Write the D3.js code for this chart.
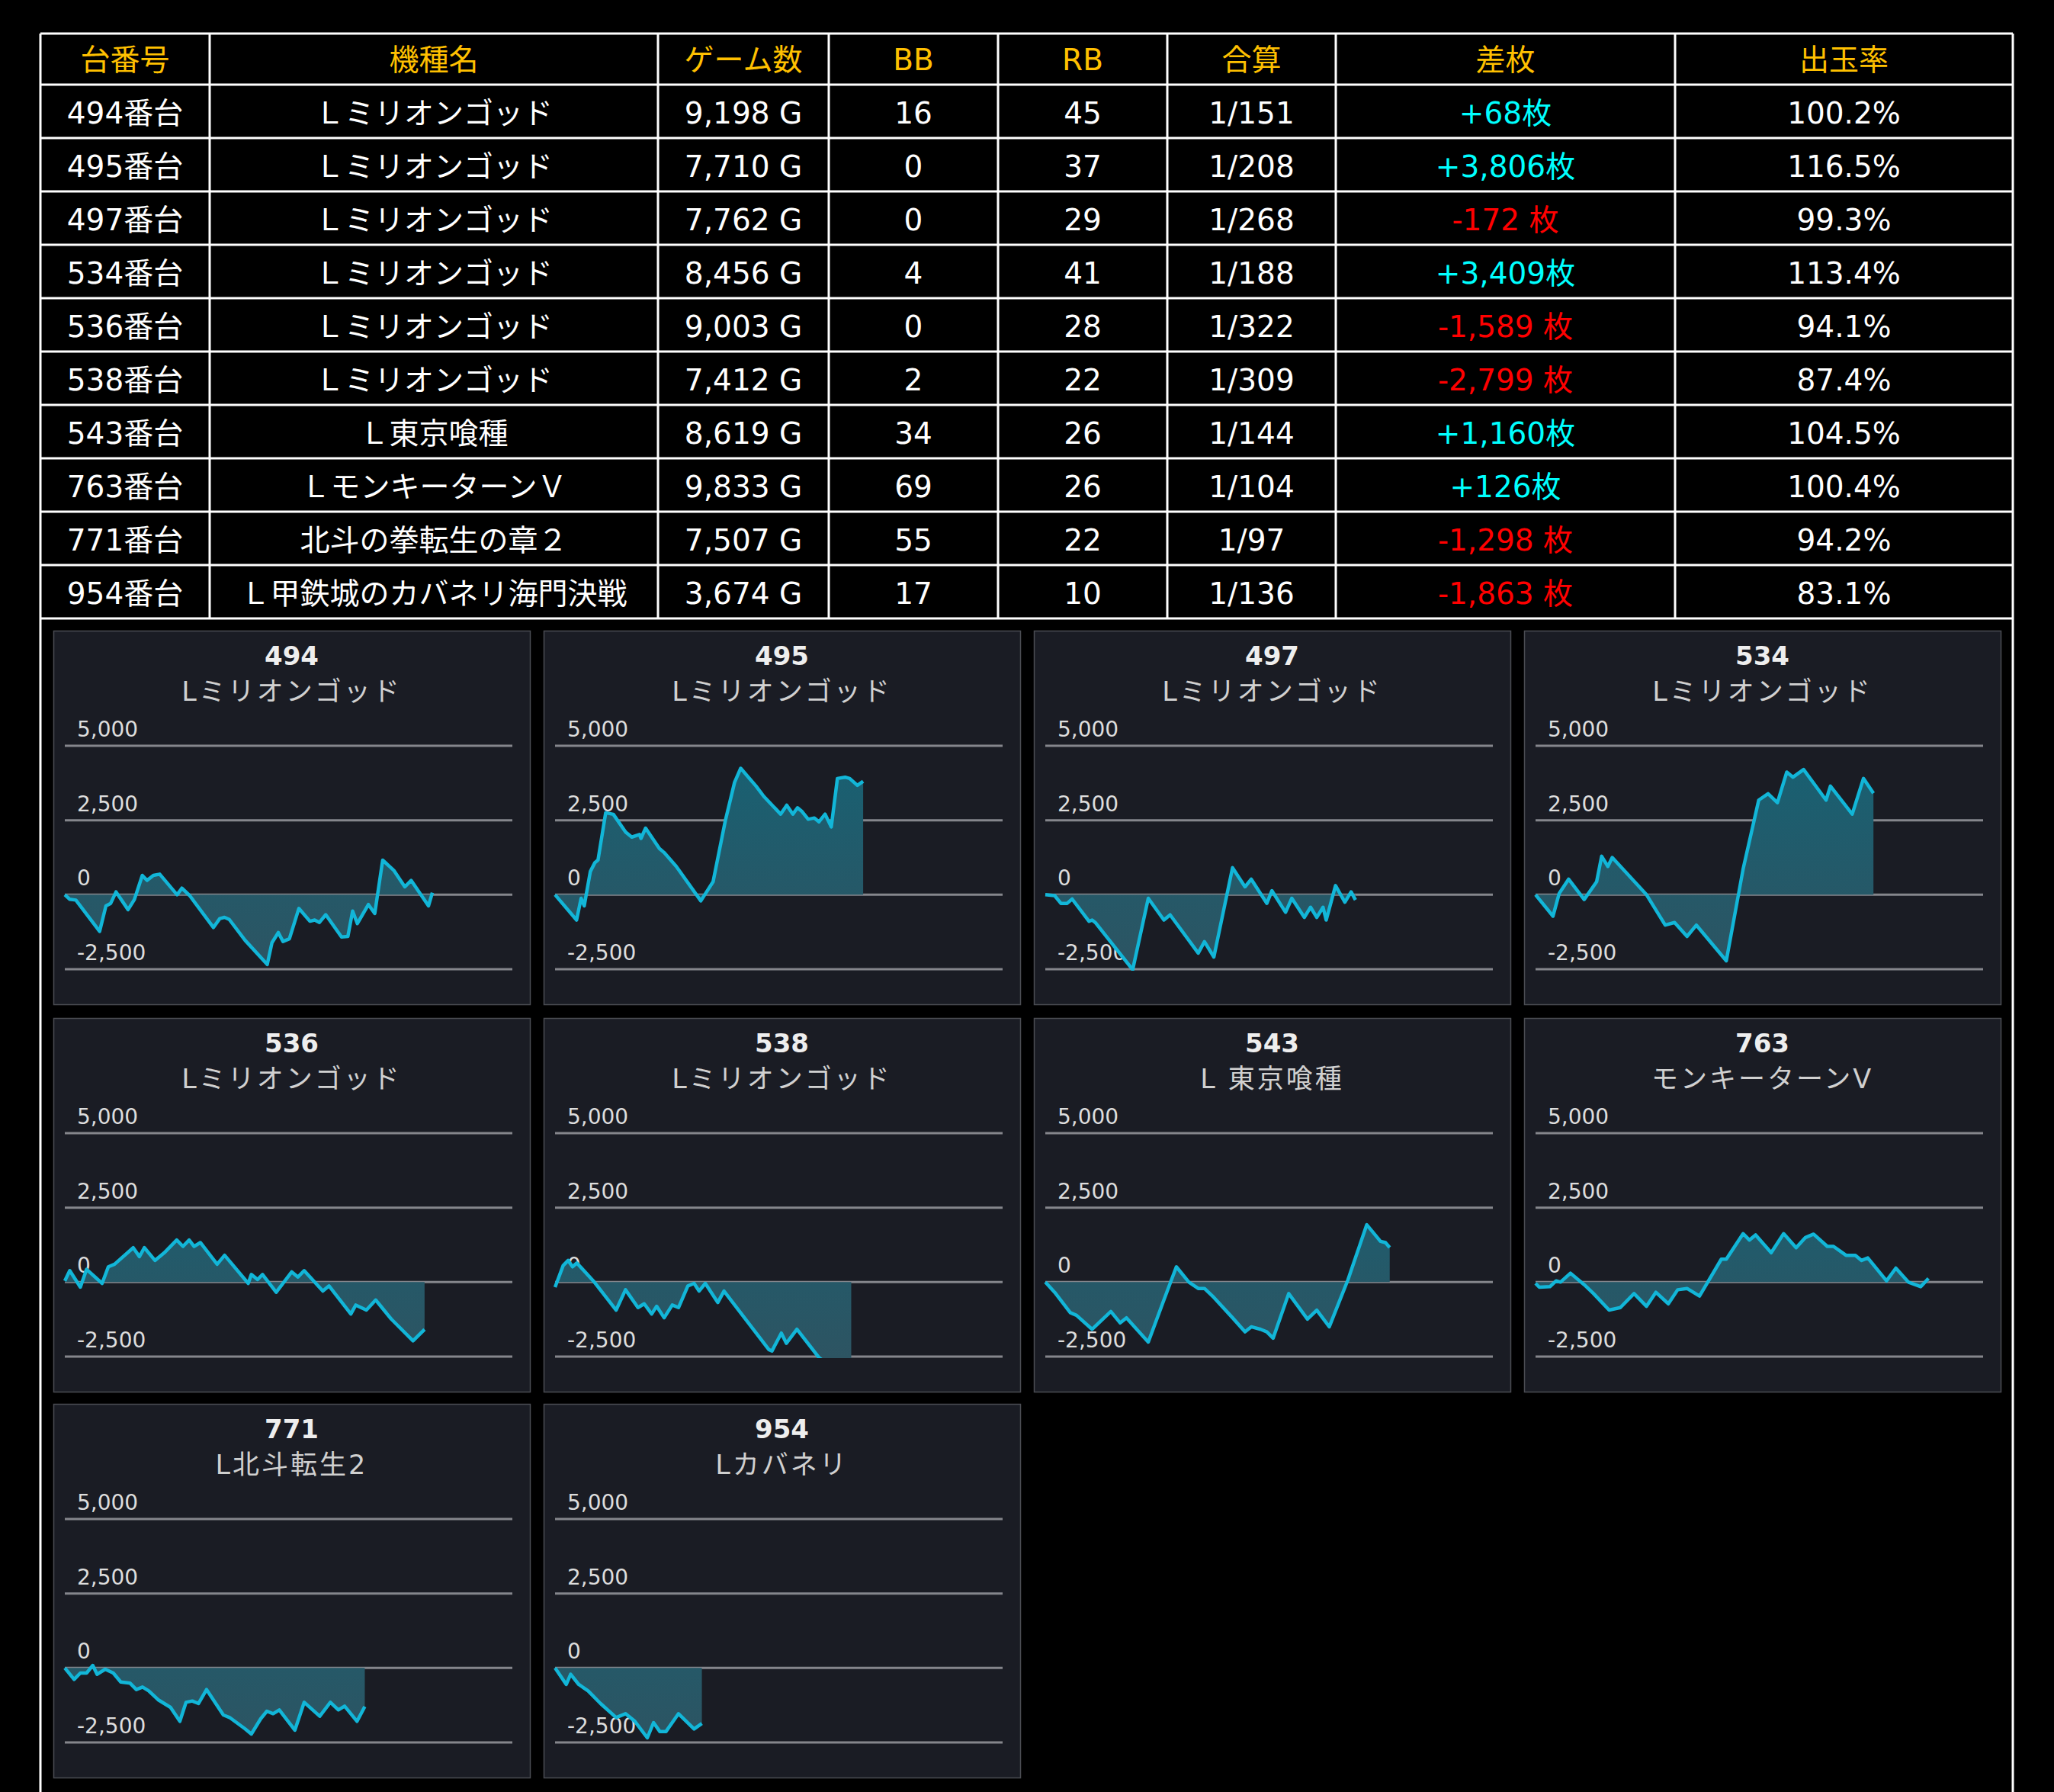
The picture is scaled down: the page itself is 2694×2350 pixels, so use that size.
<!DOCTYPE html>
<html>
<head>
<meta charset="utf-8">
<script src="https://cdn.jsdelivr.net/npm/d3@7"></script>
<style>
  body { margin: 0; background: #000; }
  svg { display: block; font-family: "DejaVu Sans", "Noto Sans CJK JP", sans-serif; }
</style>
</head>
<body>
<svg id="svg" width="2694" height="2350"></svg>
<script>
'use strict'

// table data
var headers = ['台番号', '機種名', 'ゲーム数', 'BB', 'RB', '合算', '差枚', '出玉率'];
var unitNos = [494, 495, 497, 534, 536, 538, 543, 763, 771, 954];
var modelNames = [
    'Ｌミリオンゴッド', 'Ｌミリオンゴッド', 'Ｌミリオンゴッド', 'Ｌミリオンゴッド',
    'Ｌミリオンゴッド', 'Ｌミリオンゴッド', 'Ｌ東京喰種', 'ＬモンキーターンＶ',
    '北斗の拳転生の章２', 'Ｌ甲鉄城のカバネリ海門決戦'
];
var gameCounts = [9198, 7710, 7762, 8456, 9003, 7412, 8619, 9833, 7507, 3674];
var bbCounts = [16, 0, 0, 4, 0, 2, 34, 69, 55, 17];
var rbCounts = [45, 37, 29, 41, 28, 22, 26, 26, 22, 10];
var combined = [151, 208, 268, 188, 322, 309, 144, 104, 97, 136];
var diffs = [68, 3806, -172, 3409, -1589, -2799, 1160, 126, -1298, -1863];
var payoutRates = [100.2, 116.5, 99.3, 113.4, 94.1, 87.4, 104.5, 100.4, 94.2, 83.1];

// chart data: [games, diff coins]
var chartNames = ['Lミリオンゴッド', 'Lミリオンゴッド', 'Lミリオンゴッド', 'Lミリオンゴッド',
    'Lミリオンゴッド', 'Lミリオンゴッド', 'L 東京喰種', 'モンキーターンV', 'L北斗転生2', 'Lカバネリ'];
var yTicks = [5000, 2500, 0, -2500];

var slump494 = [[0,0],[119,-150],[277,-180],[871,-1230],[1029,-375],[1148,-290],[1282,94],[1583,-500],
    [1741,-160],[1939,650],[2058,480],[2216,650],[2375,690],[2810,0],[2929,220],[3126,-30],[3720,-1100],
    [3878,-800],[3997,-760],[4116,-830],[4512,-1530],[5066,-2340],[5184,-1610],[5343,-1270],[5461,-1570],
    [5620,-1480],[5857,-460],[6134,-890],[6253,-850],[6372,-930],[6530,-670],[6925,-1420],[7084,-1400],
    [7203,-546],[7321,-970],[7598,-330],[7757,-630],[7955,1160],[8232,820],[8509,265],[8667,480],
    [9102,-375],[9198,68]];
var slump495 = [[0,0],[538,-850],[653,-120],[730,-375],[883,780],[998,1080],[1075,1165],[1267,2750],
    [1459,2700],[1767,2100],[1920,1935],[2112,2020],[2150,1890],[2266,2235],[2611,1550],[2726,1420],
    [3034,950],[3648,-205],[3955,437],[4262,2490],[4493,3775],[4646,4245],[4838,3946],[5030,3647],
    [5222,3304],[5645,2705],[5798,3005],[5952,2705],[6067,2919],[6182,2790],[6336,2534],[6490,2577],
    [6605,2448],[6758,2705],[6912,2277],[7066,3903],[7258,3946],[7373,3903],[7565,3672],[7710,3806]];
var slump497 = [[0,0],[234,-30],[390,-290],[546,-290],[672,-145],[1093,-890],[1172,-850],[1250,-930],
    [2187,-2517],[2577,-120],[2968,-850],[3124,-676],[3827,-1960],[3983,-1575],[4218,-2090],[4686,907],
    [4998,265],[5154,522],[5545,-290],[5670,137],[6013,-590],[6169,-120],[6482,-762],[6638,-420],
    [6794,-762],[6950,-420],[7029,-850],[7263,308],[7497,-250],[7653,94],[7762,-172]];
var slump534 = [[0,0],[437,-720],[593,50],[827,522],[1217,-160],[1529,437],[1654,1292],[1810,950],
    [1919,1250],[2777,0],[3245,-1020],[3479,-933],[3791,-1400],[4025,-1020],[4774,-2217],[5195,865],
    [5585,3176],[5819,3390],[6053,3090],[6287,4117],[6443,3946],[6708,4203],[7270,3176],[7379,3647],
    [7925,2705],[8206,3903],[8456,3409]];
var slump536 = [[0,40],[124,385],[389,-170],[545,428],[934,-43],[1089,514],[1245,600],[1712,1155],
    [1867,856],[1992,1155],[2256,728],[2490,985],[2801,1412],[2957,1198],[3112,1412],[3236,1198],
    [3392,1327],[3812,600],[3999,900],[4590,-43],[4668,257],[4824,86],[4948,257],[5290,-342],[5679,342],
    [5835,171],[5990,385],[6457,-300],[6613,-128],[7158,-1070],[7282,-770],[7547,-940],[7780,-600],
    [8169,-1240],[8714,-1970],[9003,-1589]];
var slump538 = [[0,-170],[203,556],[328,728],[437,514],[546,642],[983,0],[1529,-940],[1763,-257],
    [2075,-856],[2231,-728],[2418,-1070],[2543,-813],[2730,-1198],[2933,-770],[3089,-856],[3323,-128],
    [3479,-43],[3604,-300],[3760,-43],[4072,-685],[4228,-300],[5351,-2268],[5429,-2311],[5663,-1712],
    [5788,-2054],[6053,-1584],[6599,-2525],[6900,-2850],[7150,-3050],[7412,-2799]];
var slump543 = [[0,0],[234,-342],[625,-1027],[781,-1113],[1172,-1584],[1640,-985],[1874,-1370],
    [2031,-1198],[2577,-2012],[2968,-600],[3280,514],[3593,0],[3827,-214],[3983,-214],[4218,-514],
    [4686,-1198],[4998,-1670],[5154,-1500],[5389,-1584],[5545,-1670],[5701,-1883],[6091,-385],
    [6560,-1241],[6794,-942],[7107,-1500],[7576,86],[8045,1926],[8388,1370],[8513,1327],[8619,1160]];
var slump763 = [[0,-43],[94,-171],[359,-154],[515,43],[624,0],[874,300],[1217,-86],[1451,-385],
    [1841,-940],[2122,-856],[2465,-385],[2777,-813],[3011,-342],[3323,-728],[3557,-257],[3791,-214],
    [4103,-470],[4649,770],[4774,770],[5195,1626],[5351,1412],[5507,1584],[5897,985],[6209,1626],
    [6521,1155],[6755,1498],[6958,1610],[7301,1198],[7457,1198],[7769,900],[8003,900],[8159,728],
    [8315,813],[8783,43],[9017,470],[9329,0],[9641,-154],[9833,126]];
var slump771 = [[0,0],[233,-384],[389,-170],[545,-170],[700,85],[809,-213],[1011,-43],[1214,-170],
    [1400,-470],[1634,-512],[1790,-725],[1945,-640],[2100,-768],[2334,-1066],[2645,-1322],[2879,-1791],
    [3034,-1152],[3190,-1109],[3346,-1194],[3548,-725],[3968,-1578],[4124,-1663],[4513,-2047],
    [4668,-2218],[4902,-1706],[5057,-1450],[5213,-1535],[5368,-1407],[5757,-2090],[5991,-1152],
    [6380,-1621],[6645,-1152],[6847,-1407],[7002,-1280],[7313,-1791],[7507,-1298]];
var slump954 = [[0,0],[281,-554],[390,-213],[593,-554],[827,-768],[1139,-1194],[1529,-1663],
    [1763,-1535],[1997,-1791],[2309,-2346],[2465,-1834],[2621,-2133],[2777,-2133],[3089,-1535],
    [3479,-2047],[3674,-1863]];
var slumps = [slump494, slump495, slump497, slump534, slump536, slump538, slump543, slump763, slump771, slump954];

var svg = d3.select('#svg');
// plain hyphen for negatives, like the original page
var fmt = d3.formatLocale({decimal: '.', thousands: ',', grouping: [3], currency: ['', ''], minus: '-'}).format(',');

// ---- table ----
var colEdges = [53, 275, 863, 1087, 1309, 1531, 1752, 2197, 2640];
var tableTop = 44, headH = 67, rowH = 70;
var tableBottom = tableTop + headH + rowH * unitNos.length;

var rows = unitNos.map(function(n, i) {
  return [
    {t: n + '番台'},
    {t: modelNames[i]},
    {t: fmt(gameCounts[i]) + ' G'},
    {t: bbCounts[i]},
    {t: rbCounts[i]},
    {t: '1/' + combined[i]},
    {t: diffs[i] > 0 ? '+' + fmt(diffs[i]) + '枚' : fmt(diffs[i]) + ' 枚', c: diffs[i] > 0 ? '#00ffff' : '#ff0000'},
    {t: payoutRates[i].toFixed(1) + '%'}
  ];
});

var table = svg.append('g');
table.selectAll('text.head').data(headers).enter().append('text')
    .attr('class', 'head')
    .attr('x', function(d, i) { return (colEdges[i] + colEdges[i + 1]) / 2; })
    .attr('y', tableTop + headH / 2 + 14)
    .attr('text-anchor', 'middle')
    .attr('font-size', 39)
    .attr('fill', '#ffc000')
    .text(function(d) { return d; });

rows.forEach(function(row, r) {
  table.selectAll('text.r' + r).data(row).enter().append('text')
      .attr('class', 'r' + r)
      .attr('x', function(d, i) { return (colEdges[i] + colEdges[i + 1]) / 2; })
      .attr('y', tableTop + headH + rowH * r + rowH / 2 + 16)
      .attr('text-anchor', 'middle')
      .attr('font-size', 39)
      .attr('fill', function(d) { return d.c || '#fff'; })
      .text(function(d) { return d.t; });
});

var hLines = [tableTop, tableTop + headH];
unitNos.forEach(function(d, i) { hLines.push(tableTop + headH + rowH * (i + 1)); });
table.selectAll('line.h').data(hLines).enter().append('line')
    .attr('x1', colEdges[0]).attr('x2', colEdges[colEdges.length - 1])
    .attr('y1', function(d) { return d; }).attr('y2', function(d) { return d; })
    .attr('stroke', '#fff').attr('stroke-width', 3);
table.selectAll('line.v').data(colEdges.slice(1, -1)).enter().append('line')
    .attr('x1', function(d) { return d; }).attr('x2', function(d) { return d; })
    .attr('y1', tableTop).attr('y2', tableBottom)
    .attr('stroke', '#fff').attr('stroke-width', 3);
// outer sides run to the bottom of the page
table.selectAll('line.side').data([colEdges[0], colEdges[colEdges.length - 1]]).enter().append('line')
    .attr('x1', function(d) { return d; }).attr('x2', function(d) { return d; })
    .attr('y1', tableTop).attr('y2', 2350)
    .attr('stroke', '#fff').attr('stroke-width', 3);

// ---- charts ----
var panelW = 625, panelH = 490;
var panelX = [70, 713, 1356, 1999];
var panelY = [827, 1335, 1841];

unitNos.forEach(function(n, i) {
  var px = panelX[i % 4], py = panelY[Math.floor(i / 4)];
  var g = svg.append('g').attr('transform', 'translate(' + px + ',' + py + ')');

  g.append('rect')
      .attr('x', 0.5).attr('y', 0.5)
      .attr('width', panelW).attr('height', panelH)
      .attr('fill', '#1a1c24')
      .attr('stroke', '#4b4d53').attr('stroke-width', 1.5);

  var x = d3.scaleLinear().domain([0, 11200]).range([15, 602]);
  var y = d3.scaleLinear().domain([-2500, 5000]).range([444, 151]);

  g.append('text')
      .attr('x', panelW / 2).attr('y', 45)
      .attr('text-anchor', 'middle')
      .attr('font-size', 34).attr('font-weight', 'bold')
      .attr('fill', '#eeeeee')
      .text(n);
  g.append('text')
      .attr('x', panelW / 2).attr('y', 92)
      .attr('text-anchor', 'middle')
      .attr('font-size', 35)
      .attr('letter-spacing', 3)
      .attr('fill', '#d0d0d0')
      .text(chartNames[i]);

  g.selectAll('line.grid').data(yTicks).enter().append('line')
      .attr('x1', x.range()[0]).attr('x2', x.range()[1])
      .attr('y1', function(d) { return y(d); }).attr('y2', function(d) { return y(d); })
      .attr('stroke', '#85868c').attr('stroke-width', 3);
  g.selectAll('text.tick').data(yTicks).enter().append('text')
      .attr('x', 31).attr('y', function(d) { return y(d) - 12; })
      .attr('font-size', 28)
      .attr('fill', '#dddddd')
      .text(function(d) { return fmt(d); });

  var clipId = 'clip' + n, gradId = 'grad' + n;
  var defs = g.append('defs');
  defs.append('clipPath').attr('id', clipId).append('rect')
      .attr('x', x.range()[0] - 4).attr('y', y(5000))
      .attr('width', x.range()[1] - x.range()[0] + 8).attr('height', y(-2500) - y(5000) + 2);
  var grad = defs.append('linearGradient').attr('id', gradId)
      .attr('gradientUnits', 'userSpaceOnUse')
      .attr('x1', 0).attr('x2', 0).attr('y1', y(5000)).attr('y2', y(-2500));
  grad.append('stop').attr('offset', 0).attr('stop-color', '#176173');
  grad.append('stop').attr('offset', 1).attr('stop-color', '#2d5462');

  var plot = g.append('g').attr('clip-path', 'url(#' + clipId + ')');
  var area = d3.area()
      .x(function(d) { return x(d[0]); })
      .y0(y(0))
      .y1(function(d) { return y(d[1]); });
  var line = d3.line()
      .x(function(d) { return x(d[0]); })
      .y(function(d) { return y(d[1]); });

  plot.append('path').datum(slumps[i])
      .attr('d', area)
      .attr('fill', 'url(#' + gradId + ')');
  plot.append('path').datum(slumps[i])
      .attr('d', line)
      .attr('fill', 'none')
      .attr('stroke', '#12b6d8')
      .attr('stroke-width', 4.5)
      .attr('stroke-linejoin', 'round');
});
</script>
</body>
</html>
